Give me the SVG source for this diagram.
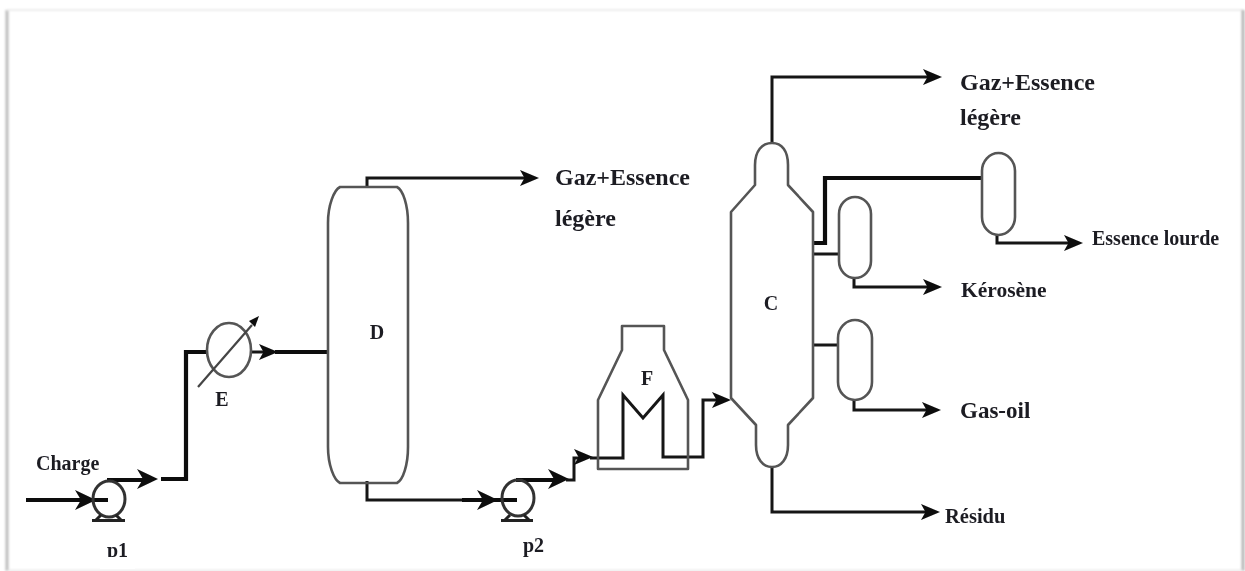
<svg xmlns="http://www.w3.org/2000/svg" width="1245" height="571" viewBox="0 0 1245 571">
<style>
text{font-family:"Liberation Serif","Times New Roman",serif;font-weight:700;fill:#1c1c24}
.big{font-size:24px}
.ker{font-size:21.5px}
.gas{font-size:23px}
.sm{font-size:20px}
.res{font-size:20.5px}
.eq{fill:none;stroke:#555;stroke-width:2.6;stroke-linejoin:round}
.eqd{fill:none;stroke:#333;stroke-width:3;stroke-linejoin:round}
.line{fill:none;stroke:#161616;stroke-width:3;stroke-linejoin:miter}
.thick{fill:none;stroke:#0c0c0c;stroke-width:4.2;stroke-linejoin:miter}
.head{fill:#0c0c0c;stroke:none}
</style>
<defs>
<filter id="soft" x="-2%" y="-2%" width="104%" height="104%"><feGaussianBlur stdDeviation="0.6"/></filter>
<filter id="shade" x="-5%" y="-5%" width="110%" height="110%"><feGaussianBlur stdDeviation="1"/></filter>
<path id="ah" class="head" d="M0 0 L-19 -8 L-14.5 0 L-19 8 Z"/>
<path id="ahb" class="head" d="M0 0 L-21 -10 L-15 0 L-21 10 Z"/>
</defs>
<rect width="1245" height="571" fill="#ffffff"/>
<g id="frame" filter="url(#shade)">
<path d="M7 10 V571" fill="none" stroke="#bdbdbd" stroke-width="3"/>
<path d="M7 10 H1243" fill="none" stroke="#ececec" stroke-width="2"/>
<path d="M1243 10 V571" fill="none" stroke="#b5b5b5" stroke-width="3"/>
<path d="M7 570.5 H1243" fill="none" stroke="#e4e4e4" stroke-width="1.5"/>
</g>
<g filter="url(#soft)">
<g id="connectors">
<path class="thick" d="M26 500 H108"/>
<use href="#ahb" x="96" y="500"/>
<path class="thick" d="M107 480 H145"/>
<use href="#ahb" x="158" y="479"/>
<path class="thick" d="M161 479 H186 V352 H207"/>
<path class="line" d="M251 352 H265"/>
<use href="#ah" x="278" y="352"/>
<path class="thick" d="M275 352 H328"/>
<path class="line" d="M367 187 V178 H525"/>
<use href="#ah" x="539" y="178"/>
<path class="line" d="M367 481 V500 H465"/>
<path class="thick" d="M462 500 H517"/>
<use href="#ahb" x="498" y="500"/>
<path class="thick" d="M516 480 H560"/>
<use href="#ahb" x="569" y="479"/>
<path class="line" d="M566 480 H574 V458 H582"/>
<use href="#ah" x="593" y="457"/>
<path class="line" d="M590 458 H623 V395 L643 418 L663 395 V457 H703 V400 H718"/>
<use href="#ah" x="731" y="400"/>
<path class="line" d="M772 143 V77 H930"/>
<use href="#ah" x="942" y="77"/>
<path class="thick" d="M813 243 H825 V178 H983"/>
<path class="line" d="M813 254 H839"/>
<path class="line" d="M813 345 H838"/>
<path class="line" d="M854 278 V287 H930"/>
<use href="#ah" x="942" y="287"/>
<path class="line" d="M854 400 V410 H930"/>
<use href="#ah" x="941" y="410"/>
<path class="line" d="M997 235 V243 H1072"/>
<use href="#ah" x="1083" y="243"/>
<path class="line" d="M772 467 V512 H930"/>
<use href="#ah" x="940" y="512"/>
</g>
<g id="charge-label"><text class="sm" x="36" y="470">Charge</text></g>
<g id="p1">
<ellipse class="eqd" cx="109" cy="499" rx="16" ry="18"/>
<path d="M92 520.5 H125 M96 520 L101 515 M121 520 L116 515" fill="none" stroke="#222" stroke-width="3"/>
<text class="sm" x="107" y="556.5">p1</text>
<rect x="100" y="557" width="35" height="12" fill="#fff"/>
</g>
<g id="E">
<ellipse class="eq" cx="229" cy="350" rx="22" ry="27"/>
<path d="M198 387 L252 325" fill="none" stroke="#444" stroke-width="2.2"/>
<path class="head" d="M259 316 L249 321 L255 327 Z"/>
<text class="sm" x="222" y="406" text-anchor="middle">E</text>
</g>
<g id="D">
<path class="eq" d="M340 187 H397 C403 190 408 205 408 223 V447 C408 465 403 480 397 483 H340 C334 480 328 465 328 447 V223 C328 205 334 190 340 187 Z"/>
<text class="sm" x="377" y="339" text-anchor="middle">D</text>
</g>
<g id="p2">
<ellipse class="eqd" cx="518" cy="498" rx="16" ry="18"/>
<path d="M501 520.5 H533 M505 520 L510 515 M529 520 L524 515" fill="none" stroke="#222" stroke-width="3"/>
<text class="sm" x="523" y="552">p2</text>
</g>
<g id="F">
<path class="eq" d="M622 326 H664 V350 L688 400 V469 H598 V400 L622 350 Z"/>
<text class="sm" x="647" y="385" text-anchor="middle">F</text>
</g>
<g id="C">
<path class="eq" d="M772 143 C762 143 755 151 755 165 V185 L731 212 V398 L756 425 V445 C756 459 763 467 772 467 C781 467 788 459 788 445 V425 L813 398 V212 L788 185 V165 C788 151 782 143 772 143 Z"/>
<text class="sm" x="771" y="310" text-anchor="middle">C</text>
</g>
<g id="V1"><rect class="eq" x="839" y="197" width="32" height="81" rx="16" ry="17"/></g>
<g id="V2"><rect class="eq" x="982" y="153" width="33" height="82" rx="16.5" ry="18"/></g>
<g id="V3"><rect class="eq" x="838" y="320" width="34" height="80" rx="17" ry="18"/></g>
<g id="labels">
<text class="big" x="555" y="185">Gaz+Essence</text>
<text class="big" x="555" y="226">légère</text>
<text class="big" x="960" y="90">Gaz+Essence</text>
<text class="big" x="960" y="125">légère</text>
<text class="sm" x="1092" y="245">Essence lourde</text>
<text class="ker" x="961" y="297">Kérosène</text>
<text class="gas" x="960" y="418">Gas-oil</text>
<text class="res" x="945" y="523">Résidu</text>
</g>
</g>
</svg>
